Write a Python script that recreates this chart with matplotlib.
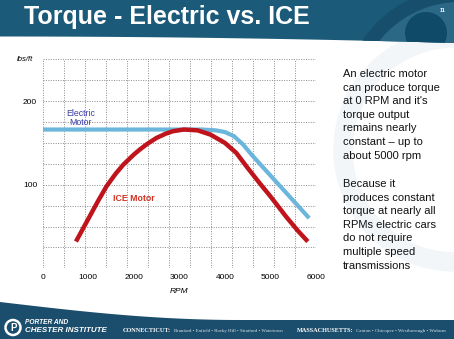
import numpy as np
import matplotlib.pyplot as plt
from matplotlib.patches import Polygon, Circle

# torque curves (lbs/ft vs RPM)
rpm_elec = [0, 1000, 2000, 3000, 3500, 3800, 4000, 4200, 4400, 4600, 5000, 5500, 5850]
torque_elec = [166, 166, 166, 166, 166, 165, 163, 158, 148, 135, 111, 81, 60]

rpm_ice = [730, 950, 1200, 1400, 1600, 1770, 2000, 2130, 2300, 2500, 2700, 2860,
           3100, 3400, 3680, 4000, 4250, 4500, 4760, 5000, 5340, 5600, 5820]
torque_ice = [32, 54, 79, 98, 113, 124, 136, 142, 149, 156, 161, 164,
              166, 165, 160, 150, 138, 120, 102, 86, 62, 45, 32]

x_ticks = [0, 1000, 2000, 3000, 4000, 5000, 6000]
y_ticks = [100, 200]

title = 'Torque - Electric vs. ICE'
side_text_1 = ("An electric motor\ncan produce torque\nat 0 RPM and it's\ntorque output\n"
               "remains nearly\nconstant \u2013 up to\nabout 5000 rpm")
side_text_2 = ("Because it\nproduces constant\ntorque at nearly all\nRPMs electric cars\n"
               "do not require\nmultiple speed\ntransmissions")

W, H = 454, 339
fig = plt.figure(figsize=(W / 100, H / 100), dpi=100)
plt.rcParams['font.family'] = ['Liberation Sans', 'DejaVu Sans']

# slide background in pixel coordinates
bg = fig.add_axes([0, 0, 1, 1])
bg.set_xlim(0, W)
bg.set_ylim(H, 0)
bg.axis('off')

# faint decorative shapes on the white area
bg.add_patch(Circle((455, 150), 112, facecolor='none', edgecolor='#f2f6f9', lw=14, zorder=0))

# header band with curved lower edge
xs = np.linspace(0, W, 80)
edge = 36.5 + 6.5 * (xs / W) ** 2
hdr_pts = np.vstack([np.column_stack([xs, edge]), [[W, 0], [0, 0]]])
hdr = Polygon(hdr_pts, closed=True, facecolor='#1c5a7a', edgecolor='none', zorder=1)
bg.add_patch(hdr)
glow = Circle((460, 105), 110, facecolor='#2b6886', edgecolor='#164e6b', lw=10, zorder=1.2)
bg.add_patch(glow)
glow.set_clip_path(hdr)
dot = Circle((426, 33), 21, facecolor='#0f4a68', edgecolor='none', zorder=1.4)
bg.add_patch(dot)
dot.set_clip_path(hdr)

bg.text(24, 17, title, color='white', fontsize=18, fontweight='bold', va='center', ha='left', zorder=3)
bg.text(443, 10, '11', color='white', fontsize=4, fontweight='bold', ha='center', va='center', zorder=3)

# footer band
fx = np.linspace(0, W, 80)
ftop = np.where(fx < 240, 302 + 18 * np.sin(np.pi / 2 * fx / 240), 320)
ftr = np.vstack([np.column_stack([fx, ftop]), [[W, H], [0, H]]])
bg.add_patch(Polygon(ftr, closed=True, facecolor='#1b4d6c', edgecolor='none', zorder=1))
bg.add_patch(Circle((13, 327.5), 7.5, facecolor='none', edgecolor='white', lw=1.8, zorder=3))
bg.text(13.5, 328, 'P', color='white', fontsize=7, fontweight='bold', ha='center', va='center', zorder=3)
bg.text(25, 322.5, 'PORTER AND', color='white', fontsize=4.8, fontweight='bold', style='italic', va='center', zorder=3)
bg.text(25, 330.5, 'CHESTER INSTITUTE', color='white', fontsize=5.8, fontweight='bold', style='italic', va='center', zorder=3)
bg.text(123, 331, 'CONNECTICUT:', color='white', fontsize=4.5, fontweight='bold', family='Liberation Serif', va='center', zorder=3)
bg.text(174, 331, 'Branford \u2022 Enfield \u2022 Rocky Hill \u2022 Stratford \u2022 Watertown',
        color='#d8e4ec', fontsize=3.5, family='Liberation Serif', va='center', zorder=3)
bg.text(297, 331, 'MASSACHUSETTS:', color='white', fontsize=4.5, fontweight='bold', family='Liberation Serif', va='center', zorder=3)
bg.text(356, 331, 'Canton \u2022 Chicopee \u2022 Westborough \u2022 Woburn',
        color='#d8e4ec', fontsize=3.6, family='Liberation Serif', va='center', zorder=3)

# side notes
bg.text(343, 69, side_text_1, fontsize=8.0, color='#111111', va='top', ha='left', linespacing=1.45, zorder=3)
bg.text(343, 179, side_text_2, fontsize=8.0, color='#111111', va='top', ha='left', linespacing=1.45, zorder=3)

# chart
ax = fig.add_axes([42.7 / W, 1 - 268.3 / H, (316 - 42.7) / W, (268.3 - 59.3) / H])
ax.set_facecolor('none')
ax.set_xlim(0, 6000)
ax.set_ylim(0, 250)
for v in np.linspace(0, 6000, 14):
    ax.axvline(v, color='#8a8a8a', lw=0.7, ls=(0, (1, 1.5)), zorder=1)
for v in np.arange(0, 251, 25):
    ax.axhline(v, color='#8a8a8a', lw=0.7, ls=(0, (1, 1.5)), zorder=1)
for s in ax.spines.values():
    s.set_visible(False)

ax.plot(rpm_elec, torque_elec, color='#6cb6dc', lw=3.0, solid_capstyle='butt', zorder=3)
ax.plot(rpm_ice, torque_ice, color='#c0141c', lw=3.2, solid_capstyle='butt', zorder=4)

ax.set_xticks(x_ticks)
ax.set_yticks(y_ticks)
ax.tick_params(length=0, labelsize=6, pad=4)
ax.set_xlabel('RPM', fontsize=6, style='italic', labelpad=5)
ax.text(-0.035, 1.0, 'lbs/ft', transform=ax.transAxes, fontsize=5.5, style='italic', ha='right', va='center')

ax.text(840, 180, 'Electric\nMotor', color='#3b3fa8', fontsize=6.3, ha='center', va='center', linespacing=0.95)
ax.text(2000, 83, 'ICE Motor', color='#d0301f', fontsize=6.3, fontweight='bold', ha='center', va='center')

fig.savefig('out.png', dpi=100)
